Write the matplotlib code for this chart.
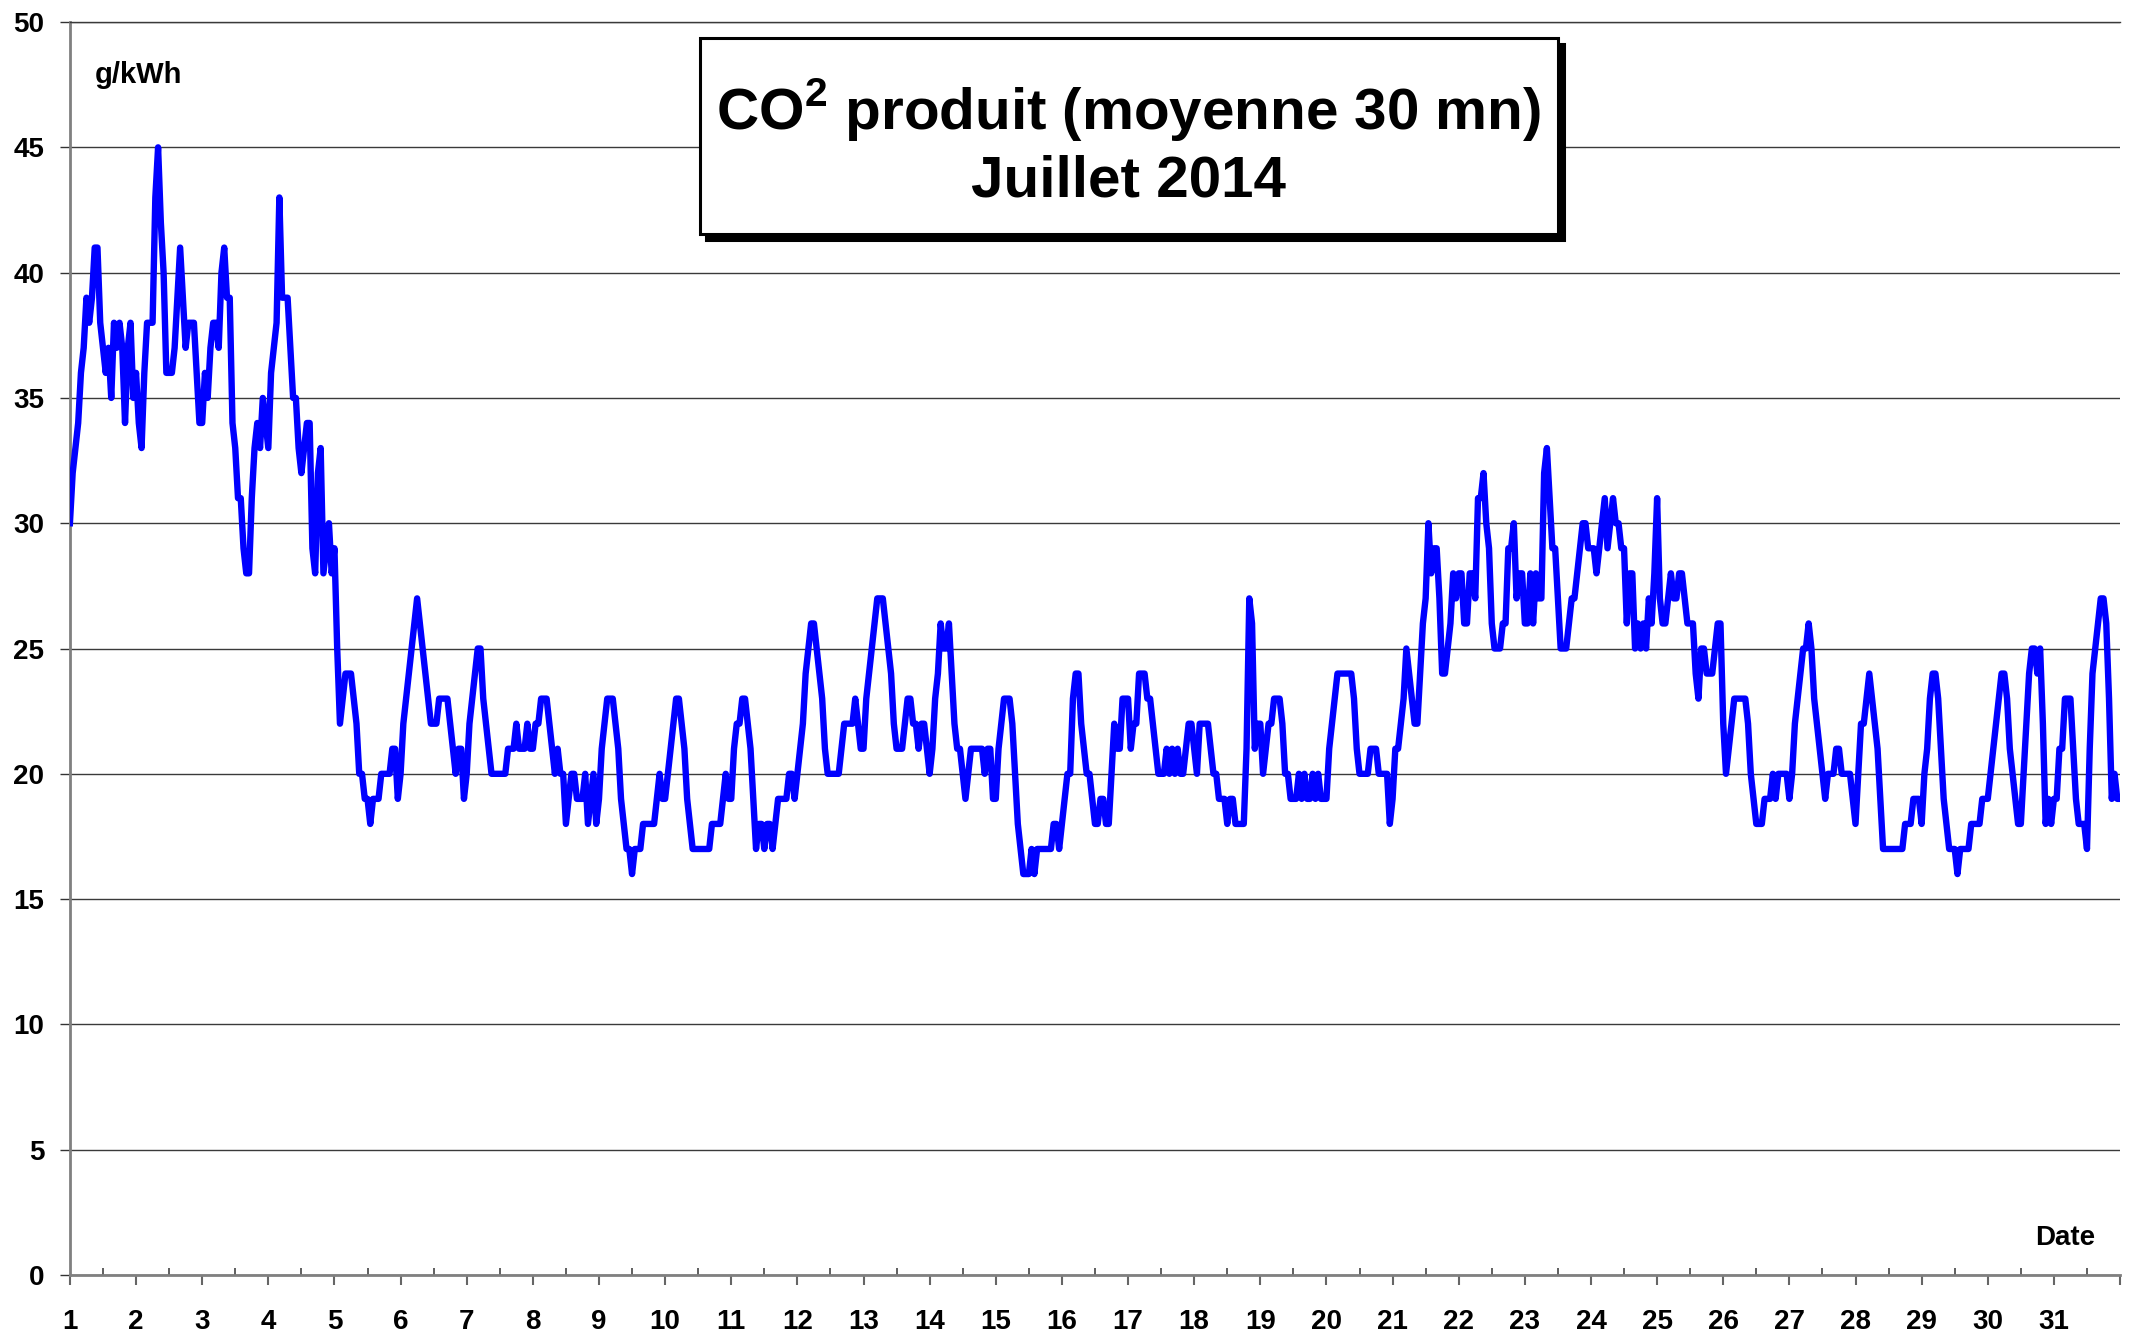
import numpy as np
import matplotlib
matplotlib.use('Agg')
import matplotlib.pyplot as plt
from matplotlib.patches import Rectangle
from matplotlib.ticker import FixedLocator

plt.rcParams['font.family'] = ['Liberation Sans', 'DejaVu Sans']
plt.rcParams['font.weight'] = 'bold'
plt.rcParams['mathtext.fontset'] = 'custom'
plt.rcParams['mathtext.bf'] = 'Liberation Sans:bold'
plt.rcParams['mathtext.rm'] = 'Liberation Sans:bold'

# Hourly readings of CO2 (g/kWh), July 2014 (24 per day)
co2_days_01_08 = [
    30, 32, 33, 34, 36, 37, 39, 38, 39, 41, 41, 38, 37, 36, 37, 35, 38, 37, 38, 37, 34, 37, 38, 35,
    36, 34, 33, 36, 38, 38, 38, 43, 45, 42, 40, 36, 36, 36, 37, 39, 41, 39, 37, 38, 38, 38, 36, 34,
    34, 36, 35, 37, 38, 38, 37, 40, 41, 39, 39, 34, 33, 31, 31, 29, 28, 28, 31, 33, 34, 33, 35, 34,
    33, 36, 37, 38, 43, 39, 39, 39, 37, 35, 35, 33, 32, 33, 34, 34, 29, 28, 32, 33, 28, 29, 30, 28,
    29, 25, 22, 23, 24, 24, 24, 23, 22, 20, 20, 19, 19, 18, 19, 19, 19, 20, 20, 20, 20, 21, 21, 19,
    20, 22, 23, 24, 25, 26, 27, 26, 25, 24, 23, 22, 22, 22, 23, 23, 23, 23, 22, 21, 20, 21, 21, 19,
    20, 22, 23, 24, 25, 25, 23, 22, 21, 20, 20, 20, 20, 20, 20, 21, 21, 21, 22, 21, 21, 21, 22, 21,
    21, 22, 22, 23, 23, 23, 22, 21, 20, 21, 20, 20, 18, 19, 20, 20, 19, 19, 19, 20, 18, 19, 20, 18,
]
co2_days_09_16 = [
    19, 21, 22, 23, 23, 23, 22, 21, 19, 18, 17, 17, 16, 17, 17, 17, 18, 18, 18, 18, 18, 19, 20, 19,
    19, 20, 21, 22, 23, 23, 22, 21, 19, 18, 17, 17, 17, 17, 17, 17, 17, 18, 18, 18, 18, 19, 20, 19,
    19, 21, 22, 22, 23, 23, 22, 21, 19, 17, 18, 18, 17, 18, 18, 17, 18, 19, 19, 19, 19, 20, 20, 19,
    20, 21, 22, 24, 25, 26, 26, 25, 24, 23, 21, 20, 20, 20, 20, 20, 21, 22, 22, 22, 22, 23, 22, 21,
    21, 23, 24, 25, 26, 27, 27, 27, 26, 25, 24, 22, 21, 21, 21, 22, 23, 23, 22, 22, 21, 22, 22, 21,
    20, 21, 23, 24, 26, 25, 25, 26, 24, 22, 21, 21, 20, 19, 20, 21, 21, 21, 21, 21, 20, 21, 21, 19,
    19, 21, 22, 23, 23, 23, 22, 20, 18, 17, 16, 16, 16, 17, 16, 17, 17, 17, 17, 17, 17, 18, 18, 17,
    18, 19, 20, 20, 23, 24, 24, 22, 21, 20, 20, 19, 18, 18, 19, 19, 18, 18, 20, 22, 21, 21, 23, 23,
]
co2_days_17_24 = [
    23, 21, 22, 22, 24, 24, 24, 23, 23, 22, 21, 20, 20, 20, 21, 20, 21, 20, 21, 20, 20, 21, 22, 22,
    21, 20, 22, 22, 22, 22, 21, 20, 20, 19, 19, 19, 18, 19, 19, 18, 18, 18, 18, 21, 27, 26, 21, 22,
    22, 20, 21, 22, 22, 23, 23, 23, 22, 20, 20, 19, 19, 19, 20, 19, 20, 19, 19, 20, 19, 20, 19, 19,
    19, 21, 22, 23, 24, 24, 24, 24, 24, 24, 23, 21, 20, 20, 20, 20, 21, 21, 21, 20, 20, 20, 20, 18,
    19, 21, 21, 22, 23, 25, 24, 23, 22, 22, 24, 26, 27, 30, 28, 29, 29, 27, 24, 24, 25, 26, 28, 27,
    28, 28, 26, 26, 28, 28, 27, 31, 31, 32, 30, 29, 26, 25, 25, 25, 26, 26, 29, 29, 30, 27, 28, 28,
    26, 26, 28, 26, 28, 27, 27, 32, 33, 31, 29, 29, 27, 25, 25, 25, 26, 27, 27, 28, 29, 30, 30, 29,
    29, 29, 28, 29, 30, 31, 29, 30, 31, 30, 30, 29, 29, 26, 28, 28, 25, 26, 25, 26, 25, 27, 26, 28,
]
co2_days_25_31 = [
    31, 27, 26, 26, 27, 28, 27, 27, 28, 28, 27, 26, 26, 26, 24, 23, 25, 25, 24, 24, 24, 25, 26, 26,
    22, 20, 21, 22, 23, 23, 23, 23, 23, 22, 20, 19, 18, 18, 18, 19, 19, 19, 20, 19, 20, 20, 20, 20,
    19, 20, 22, 23, 24, 25, 25, 26, 25, 23, 22, 21, 20, 19, 20, 20, 20, 21, 21, 20, 20, 20, 20, 19,
    18, 20, 22, 22, 23, 24, 23, 22, 21, 19, 17, 17, 17, 17, 17, 17, 17, 17, 18, 18, 18, 19, 19, 19,
    18, 20, 21, 23, 24, 24, 23, 21, 19, 18, 17, 17, 17, 16, 17, 17, 17, 17, 18, 18, 18, 18, 19, 19,
    19, 20, 21, 22, 23, 24, 24, 23, 21, 20, 19, 18, 18, 20, 22, 24, 25, 25, 24, 25, 22, 18, 19, 18,
    19, 19, 21, 21, 23, 23, 23, 21, 19, 18, 18, 18, 17, 21, 24, 25, 26, 27, 27, 26, 23, 19, 20, 19,
]
co2_end = [19]

day_ticks = list(range(1, 33))
day_labels = [str(d) for d in range(1, 32)] + ['']
y_ticks = list(range(0, 51, 5))

values = np.array(co2_days_01_08 + co2_days_09_16 + co2_days_17_24 + co2_days_25_31 + co2_end, dtype=float)
t = 1 + np.arange(len(values)) / 24.0

fig = plt.figure(figsize=(21.38, 13.37), dpi=100)
ax = fig.add_axes([0.0327, 0.0464, 0.9589, 0.9371])
ax.plot(t, values, color='#0000FF', lw=4.6, zorder=3)

ax.set_xlim(1, 32)
ax.set_ylim(0, 50)
ax.set_xticks(day_ticks)
ax.set_xticklabels(day_labels)
ax.xaxis.set_minor_locator(FixedLocator(np.arange(1.5, 32, 1.0)))
ax.tick_params(axis='x', which='major', direction='out', length=7.5, width=1.5,
               color='#666666', pad=17, labelsize=20)
ax.tick_params(axis='x', which='minor', direction='in', length=5, width=1.2, color='#444444')
ax.set_yticks(y_ticks)
ax.tick_params(axis='y', direction='out', length=7.5, width=1.0, color='#333333',
               pad=11, labelsize=20)
ax.yaxis.grid(True, color='#3a3a3a', lw=1.0)
ax.set_axisbelow(True)

for side in ['left', 'bottom']:
    ax.spines[side].set_color('#808080')
    ax.spines[side].set_linewidth(2.0)
ax.spines['top'].set_color('#3a3a3a')
ax.spines['top'].set_linewidth(1.0)
ax.spines['right'].set_visible(False)

# Title box with shadow
x0, y0, w, h = 0.3274, 0.825, 0.4013, 0.1466
shadow = Rectangle((x0 + 0.0028, y0 - 0.0045), w, h, transform=fig.transFigure,
                   facecolor='black', edgecolor='black', lw=2.2, zorder=5)
box = Rectangle((x0, y0), w, h, transform=fig.transFigure,
                facecolor='white', edgecolor='black', lw=2.2, zorder=6)
fig.add_artist(shadow)
fig.add_artist(box)
fig.text(0.528, 0.9175, r'CO$^{\mathbf{2}}$ produit (moyenne 30 mn)', ha='center', va='center',
         fontsize=42, fontweight='bold', zorder=7)
fig.text(0.528, 0.8646, 'Juillet 2014', ha='center', va='center',
         fontsize=42, fontweight='bold', zorder=7)

fig.text(0.0444, 0.944, 'g/kWh', ha='left', va='center', fontsize=21, fontweight='bold')
fig.text(0.966, 0.074, 'Date', ha='center', va='center', fontsize=20, fontweight='bold')

fig.savefig('out.png', dpi=100)
